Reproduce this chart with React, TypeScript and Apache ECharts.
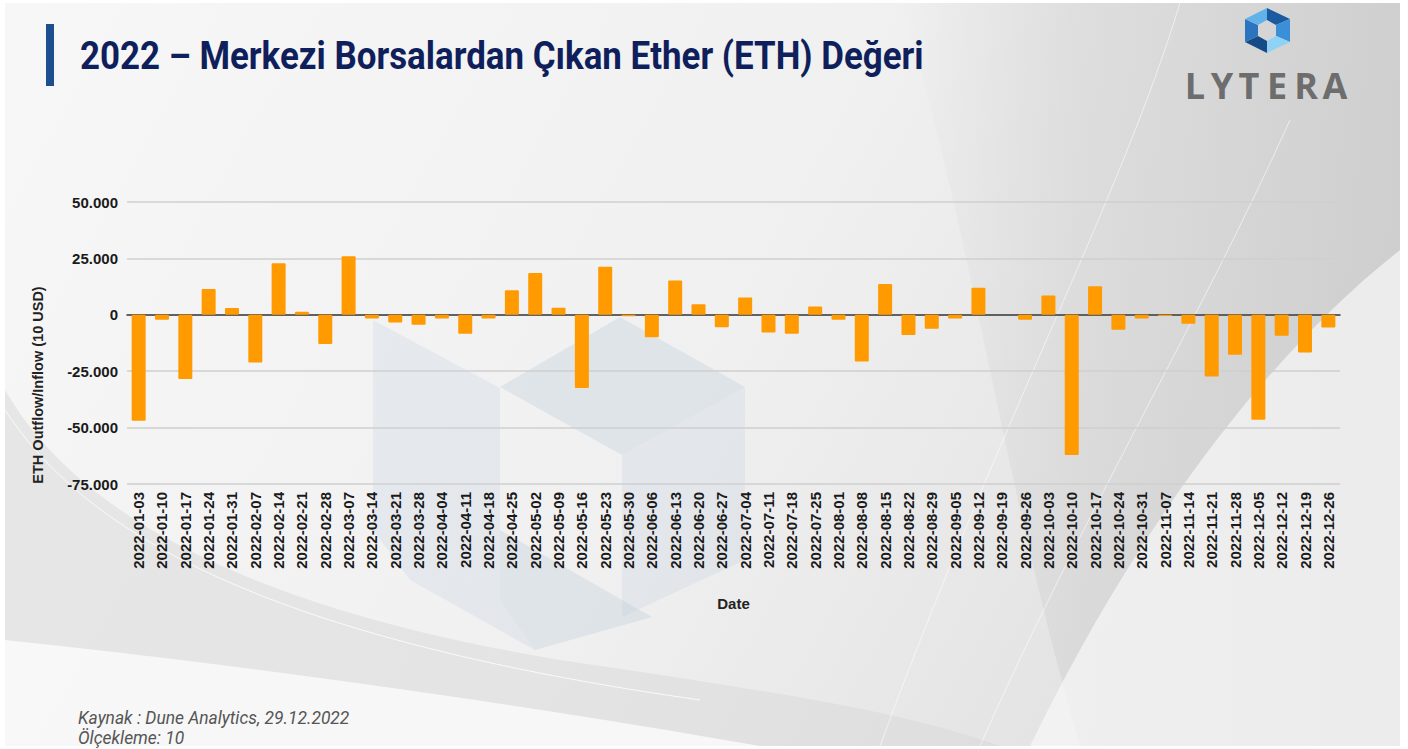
import React, { useEffect, useRef } from "react";
import * as echarts from "echarts";

const dates = [
  "2022-01-03", "2022-01-10", "2022-01-17", "2022-01-24", "2022-01-31",
  "2022-02-07", "2022-02-14", "2022-02-21", "2022-02-28",
  "2022-03-07", "2022-03-14", "2022-03-21", "2022-03-28",
  "2022-04-04", "2022-04-11", "2022-04-18", "2022-04-25",
  "2022-05-02", "2022-05-09", "2022-05-16", "2022-05-23", "2022-05-30",
  "2022-06-06", "2022-06-13", "2022-06-20", "2022-06-27",
  "2022-07-04", "2022-07-11", "2022-07-18", "2022-07-25",
  "2022-08-01", "2022-08-08", "2022-08-15", "2022-08-22", "2022-08-29",
  "2022-09-05", "2022-09-12", "2022-09-19", "2022-09-26",
  "2022-10-03", "2022-10-10", "2022-10-17", "2022-10-24", "2022-10-31",
  "2022-11-07", "2022-11-14", "2022-11-21", "2022-11-28",
  "2022-12-05", "2022-12-12", "2022-12-19", "2022-12-26",
];

const flows = [
  -47000, -2200, -28500, 11400, 3000,
  -21100, 22900, 1300, -12900,
  25900, -1600, -3400, -4400,
  -1600, -8400, -1600, 10900,
  18500, 3100, -32400, 21300, -600,
  -10000, 15200, 4700, -5500,
  7700, -7800, -8400, 3700,
  -2200, -20700, 13600, -8900, -6200,
  -1600, 12000, 0, -2200,
  8600, -62200, 12600, -6600, -1600,
  -500, -4000, -27300, -17700,
  -46500, -9300, -16700, -5600,
];

const yMin = -75000;
const yMax = 50000;
const yStep = 25000;

const titleText = "2022 – Merkezi Borsalardan Çıkan Ether (ETH) Değeri";
const yAxisTitle = "ETH Outflow/Inflow (10 USD)";
const xAxisTitle = "Date";
const sourceLines = ["Kaynak : Dune Analytics, 29.12.2022", "Ölçekleme: 10"];
const brandLetters = ["L", "Y", "T", "E", "R", "A"];

function fmt(v: number): string {
  const s = Math.abs(v).toString().replace(/\B(?=(\d{3})+(?!\d))/g, ".");
  return (v < 0 ? "-" : "") + s;
}

let registered = false;
function registerShapes() {
  if (registered) return;
  registered = true;
  echarts.graphic.registerShape(
    "bgRight",
    echarts.graphic.extendPath(
      "M 900 3 C 970 220 1000 470 1080 746 L 1400 746 L 1400 3 Z",
      {}
    ) as any
  );
  echarts.graphic.registerShape(
    "bgRightWhite",
    echarts.graphic.extendPath(
      "M 1400 250 C 1260 360 1130 540 1030 746 L 1400 746 Z",
      {}
    ) as any
  );
  echarts.graphic.registerShape(
    "bgLeftArc",
    echarts.graphic.extendPath(
      "M 5 390 C 80 520 260 610 560 660 C 760 690 900 710 1000 746 L 5 746 Z",
      {}
    ) as any
  );
  echarts.graphic.registerShape(
    "bgLeftWhite",
    echarts.graphic.extendPath(
      "M 5 640 C 200 660 500 700 760 746 L 5 746 Z",
      {}
    ) as any
  );
}

export default function App() {
  const ref = useRef<HTMLDivElement>(null);

  useEffect(() => {
    document.body.style.margin = "0";
    registerShapes();
    const chart = echarts.init(ref.current!, null, { renderer: "svg" });

    const cx = 1267;
    const outer = [
      [cx, 8], [cx + 23, 19], [cx + 23, 42], [cx, 53], [cx - 22, 42], [cx - 22, 19],
    ];
    const inner = [
      [cx, 20], [cx + 9, 25], [cx + 9, 36], [cx, 41], [cx - 9, 36], [cx - 9, 25],
    ];
    const hexColors = ["#1c5aa0", "#3a8fd8", "#8fd2f5", "#174b86", "#2c74be", "#62b2ea"];
    const hexSegs = hexColors.map((c, i) => ({
      type: "polygon",
      shape: {
        points: [outer[i], outer[(i + 1) % 6], inner[(i + 1) % 6], inner[i]],
      },
      style: { fill: c },
      z: 5,
    }));

    const letterX = [1195, 1222, 1249, 1277, 1306, 1335];
    const letters = brandLetters.map((l, i) => ({
      type: "text",
      x: letterX[i],
      y: 85,
      style: {
        text: l,
        fill: "#6d6d6d",
        font: "bold 36px 'Open Sans', 'Liberation Sans', sans-serif",
        align: "center",
        verticalAlign: "middle",
      },
      z: 5,
    }));

    const wm = "rgba(190, 205, 222, 0.24)";
    const wm2 = "rgba(175, 192, 212, 0.26)";

    chart.setOption({
      animation: false,
      backgroundColor: "#ffffff",
      graphic: [
        {
          type: "rect",
          shape: { x: 5, y: 3, width: 1395, height: 743 },
          style: {
            fill: {
              type: "linear",
              x: 0, y: 0, x2: 1, y2: 0.3,
              colorStops: [
                { offset: 0, color: "#f7f7f7" },
                { offset: 0.6, color: "#f0f0f0" },
                { offset: 1, color: "#e2e2e2" },
              ],
            },
          },
          z: -20,
          silent: true,
        },
        {
          type: "bgRight",
          style: {
            fill: {
              type: "linear",
              x: 0, y: 0, x2: 1, y2: 0,
              colorStops: [
                { offset: 0, color: "rgba(205,205,205,0)" },
                { offset: 0.35, color: "rgba(205,205,205,0.45)" },
                { offset: 1, color: "rgba(200,200,200,0.75)" },
              ],
            },
          },
          z: -19,
          silent: true,
        },
        {
          type: "bgRightWhite",
          style: { fill: "rgba(248,248,248,0.7)" },
          z: -18,
          silent: true,
        },
        {
          type: "bgLeftArc",
          style: { fill: "rgba(215,215,215,0.5)" },
          z: -18,
          silent: true,
        },
        {
          type: "bgLeftWhite",
          style: { fill: "rgba(250,250,250,0.85)" },
          z: -17,
          silent: true,
        },
        {
          type: "bezierCurve",
          shape: { x1: 5, y1: 410, cpx1: 90, cpy1: 540, cpx2: 280, cpy2: 640, x2: 700, y2: 700 },
          style: { stroke: "rgba(255,255,255,0.8)", lineWidth: 1, fill: null },
          z: -16,
          silent: true,
        },
        {
          type: "bezierCurve",
          shape: { x1: 1180, y1: 3, cpx1: 1120, cpy1: 200, cpx2: 1000, cpy2: 420, x2: 880, y2: 746 },
          style: { stroke: "rgba(255,255,255,0.55)", lineWidth: 1, fill: null },
          z: -16,
          silent: true,
        },
        {
          type: "bezierCurve",
          shape: { x1: 1290, y1: 120, cpx1: 1200, cpy1: 320, cpx2: 1080, cpy2: 520, x2: 980, y2: 746 },
          style: { stroke: "rgba(255,255,255,0.55)", lineWidth: 1, fill: null },
          z: -16,
          silent: true,
        },
        {
          type: "polygon",
          shape: { points: [[373, 320], [500, 388], [500, 600], [373, 530]] },
          style: { fill: wm },
          z: -15,
          silent: true,
        },
        {
          type: "polygon",
          shape: { points: [[500, 387], [620, 317], [745, 387], [622, 455]] },
          style: { fill: wm2 },
          z: -15,
          silent: true,
        },
        {
          type: "polygon",
          shape: { points: [[622, 455], [745, 387], [745, 560], [622, 617]] },
          style: { fill: wm },
          z: -15,
          silent: true,
        },
        {
          type: "polygon",
          shape: { points: [[373, 530], [500, 600], [535, 650], [410, 580]] },
          style: { fill: wm },
          z: -15,
          silent: true,
        },
        {
          type: "polygon",
          shape: { points: [[500, 530], [622, 600], [652, 617], [535, 650], [500, 600]] },
          style: { fill: wm2 },
          z: -15,
          silent: true,
        },
        {
          type: "rect",
          shape: { x: 46, y: 24, width: 8, height: 62 },
          style: { fill: "#1d4e8f" },
          z: 5,
        },
        {
          type: "text",
          x: 80,
          y: 56,
          scaleX: 0.895,
          style: {
            text: titleText,
            fill: "#0f1f5c",
            font: "bold 39px Roboto, 'Liberation Sans', sans-serif",
            verticalAlign: "middle",
          },
          z: 5,
        },
        ...hexSegs,
        ...letters,
        {
          type: "text",
          x: 38,
          y: 385,
          rotation: Math.PI / 2,
          style: {
            text: yAxisTitle,
            fill: "#222222",
            font: "bold 14.5px 'Liberation Sans', Arial, sans-serif",
            align: "center",
            verticalAlign: "middle",
          },
          z: 5,
        },
        {
          type: "text",
          x: 78,
          y: 718,
          style: {
            text: sourceLines[0],
            fill: "#555555",
            font: "italic 17.4px Roboto, sans-serif",
            verticalAlign: "middle",
          },
          z: 5,
        },
        {
          type: "text",
          x: 78,
          y: 738,
          style: {
            text: sourceLines[1],
            fill: "#555555",
            font: "italic 17.4px Roboto, sans-serif",
            verticalAlign: "middle",
          },
          z: 5,
        },
      ],
      grid: {
        left: 127,
        right: 68,
        top: 202,
        bottom: 265,
        containLabel: false,
        outerBoundsMode: "none",
      },
      xAxis: {
        type: "category",
        data: dates,
        name: xAxisTitle,
        nameLocation: "middle",
        nameGap: 112,
        nameTextStyle: {
          color: "#222222",
          fontWeight: "bold",
          fontSize: 15,
          fontFamily: "'Liberation Sans', Arial, sans-serif",
        },
        axisLine: { show: true, onZero: true, lineStyle: { color: "#3a3a3a", width: 1.5 } },
        axisTick: { show: false },
        axisLabel: {
          interval: 0,
          rotate: 90,
          margin: 8,
          color: "#1a1a1a",
          fontWeight: "bold",
          fontSize: 15,
          fontFamily: "'Liberation Sans', Arial, sans-serif",
        },
        splitLine: { show: false },
      },
      yAxis: {
        type: "value",
        min: yMin,
        max: yMax,
        interval: yStep,
        axisLine: { show: false },
        axisTick: { show: false },
        axisLabel: {
          margin: 9,
          color: "#1a1a1a",
          fontWeight: "bold",
          fontSize: 15,
          fontFamily: "'Liberation Sans', Arial, sans-serif",
          formatter: (v: number) => fmt(v),
        },
        splitLine: { show: true, lineStyle: { color: "#cfcfcf", width: 1.5 } },
      },
      series: [
        {
          type: "bar",
          data: flows,
          barWidth: "60%",
          itemStyle: { color: "#ff9a00", borderRadius: 1 },
          z: 3,
        },
      ],
    });

    return () => chart.dispose();
  }, []);

  return (
    <div
      ref={ref}
      style={{ position: "fixed", left: 0, top: 0, width: 1408, height: 749 }}
    />
  );
}
